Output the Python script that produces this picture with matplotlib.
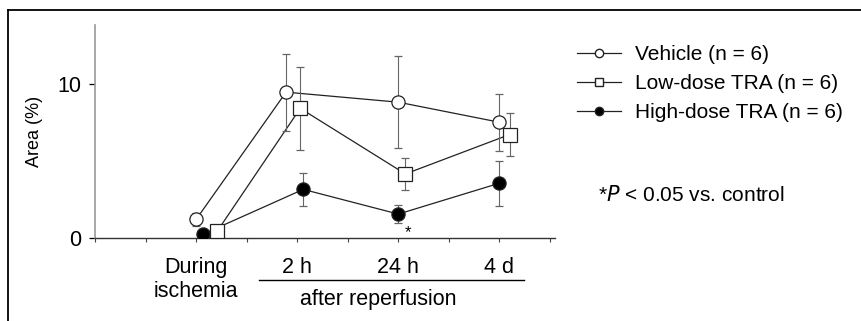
import matplotlib.pyplot as plt
from matplotlib.lines import Line2D

plt.rcParams['font.family'] = ['Liberation Sans', 'DejaVu Sans']

# categories and values (Area %, mean +/- SD)
categories = ["During\nischemia", "2 h", "24 h", "4 d"]
cat_pos = [1, 2, 3, 4]

vehicle = [1.2, 9.45, 8.8, 7.5]
vehicle_err = [0.45, 2.5, 3.0, 1.85]
low_dose = [0.45, 8.4, 4.15, 6.7]
low_dose_err = [0.0, 2.7, 1.05, 1.4]
high_dose = [0.25, 3.15, 1.55, 3.55]
high_dose_err = [0.0, 1.05, 0.6, 1.45]

# small horizontal shifts of the points as drawn in the original
vehicle_x = [1.0, 1.89, 3.0, 4.0]
low_dose_x = [1.21, 2.03, 3.07, 4.1]
high_dose_x = [1.07, 2.06, 3.0, 4.0]

fig = plt.figure(figsize=(8.61, 3.21), dpi=100)
ax = fig.add_axes([95 / 861, 1 - 238 / 321, 460 / 861, 213 / 321])

err_kw = dict(ecolor="#666666", elinewidth=0.8, capsize=3, capthick=0.8)
line_kw = dict(color="#222222", lw=0.9, markeredgecolor="#222222", markeredgewidth=0.9)

ax.errorbar(high_dose_x, high_dose, yerr=high_dose_err, fmt="o", ms=9.5,
            markerfacecolor="black", zorder=3, **err_kw, **line_kw)
ax.errorbar(vehicle_x, vehicle, yerr=vehicle_err, fmt="o", ms=9.5,
            markerfacecolor="white", zorder=4, **err_kw, **line_kw)
ax.errorbar(low_dose_x, low_dose, yerr=low_dose_err, fmt="s", ms=10,
            markerfacecolor="white", zorder=5, **err_kw, **line_kw)
ax.plot(vehicle_x, vehicle, "-", color="#222222", lw=0.9, zorder=2)
ax.plot(low_dose_x, low_dose, "-", color="#222222", lw=0.9, zorder=2)
ax.plot(high_dose_x, high_dose, "-", color="#222222", lw=0.9, zorder=2)

ax.text(3.1, 0.35, "*", ha="center", va="center", fontsize=12)

ax.set_xlim(0, 4.55)
ax.set_ylim(0, 13.8)
ax.set_xticks([0, 0.5, 1, 1.5, 2, 2.5, 3, 3.5, 4, 4.5])
ax.set_xticklabels([])
ax.set_yticks([0, 10])
ax.set_yticklabels(["0", "10"], fontsize=15.5)
ax.tick_params(axis="x", direction="out", length=3, width=0.8, color="#444444")
ax.tick_params(axis="y", direction="out", length=4, width=0.9, pad=6)
for s in ["top", "right"]:
    ax.spines[s].set_visible(False)
ax.spines["left"].set_color("#999999")
ax.spines["left"].set_linewidth(1.2)
ax.spines["bottom"].set_color("#333333")
ax.spines["bottom"].set_linewidth(1.0)
ax.set_ylabel("Area (%)", fontsize=13, labelpad=10)

for p, lab in zip(cat_pos, categories):
    ax.text(p, -1.25, lab, ha="center", va="top", fontsize=15.5, linespacing=1.15,
            clip_on=False)

# "after reperfusion" bracket
ax.plot([1.62, 4.24], [-2.7, -2.7], color="black", lw=1.0, clip_on=False)
ax.text(2.8, -3.3, "after reperfusion", ha="center", va="top", fontsize=15.5,
        clip_on=False)

# legend
handles = [
    Line2D([], [], color="#222222", lw=0.9, marker="o", ms=6, markerfacecolor="white"),
    Line2D([], [], color="#222222", lw=0.9, marker="s", ms=6, markerfacecolor="white"),
    Line2D([], [], color="#222222", lw=0.9, marker="o", ms=6, markerfacecolor="black"),
]
labels = ["Vehicle (n = 6)", "Low-dose TRA (n = 6)", "High-dose TRA (n = 6)"]
fig.legend(handles, labels, loc="upper left", bbox_to_anchor=(569 / 861, 1 - 37 / 321),
           frameon=False, fontsize=15, handlelength=2.1, handletextpad=0.65,
           labelspacing=0.47, borderaxespad=0)

fig.text(598 / 861, 1 - 195 / 321, "*$P$ < 0.05 vs. control", fontsize=15,
         ha="left", va="center")

# outer frame (top and left edge)
fig.add_artist(Line2D([8 / 861, 1], [1 - 10 / 321, 1 - 10 / 321], color="black", lw=1.3))
fig.add_artist(Line2D([8 / 861, 8 / 861], [0, 1 - 10 / 321], color="black", lw=1.3))

fig.savefig("out.png", dpi=100)
